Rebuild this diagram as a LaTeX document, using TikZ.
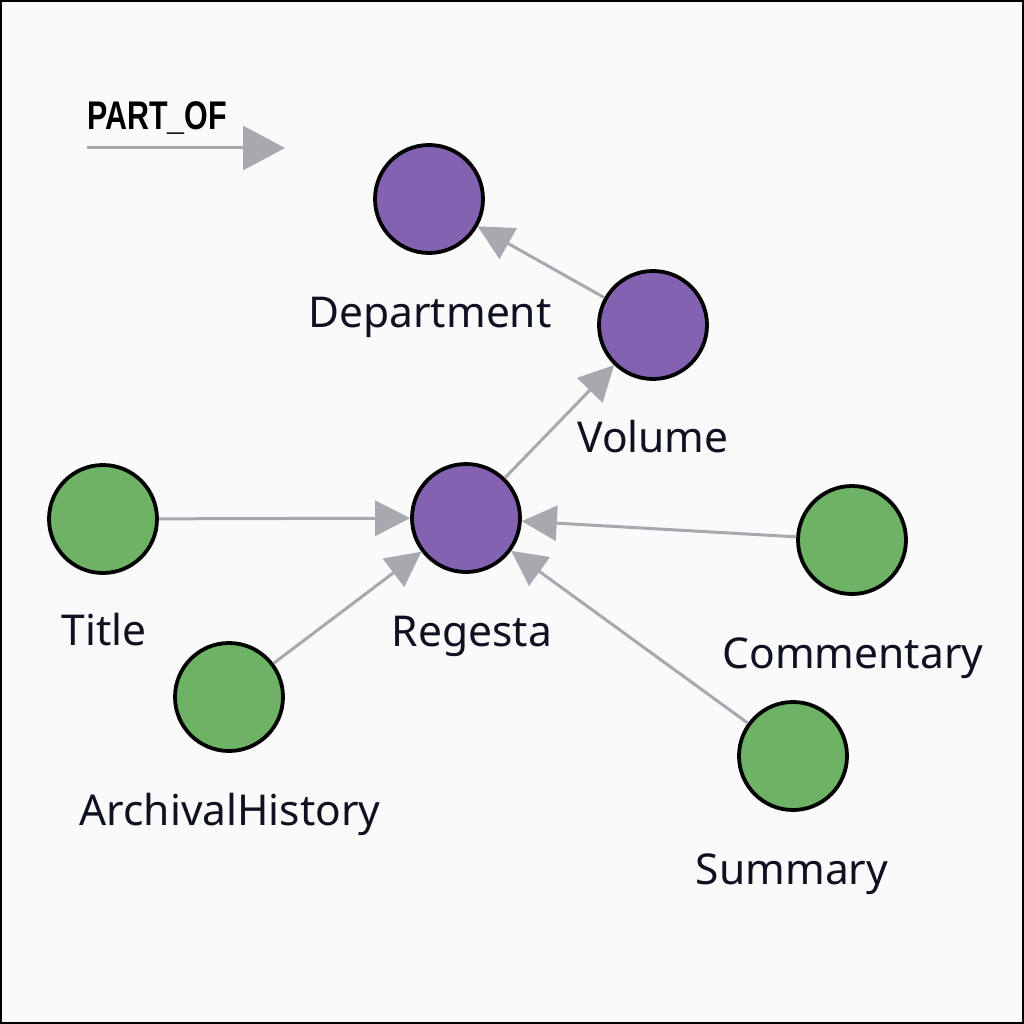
\documentclass[tikz,border=0pt]{standalone}
\usepackage{fontspec}
\setmainfont{Noto Sans}
\newfontfamily\legendfont{Liberation Sans}
\usetikzlibrary{arrows.meta}
\definecolor{paper}{RGB}{250,250,250}
\definecolor{regnode}{RGB}{132,98,178}
\definecolor{partnode}{RGB}{110,178,101}
\definecolor{edgegray}{RGB}{168,169,174}
\definecolor{ink}{RGB}{15,16,32}

\begin{document}
\begin{tikzpicture}[x=1pt,y=-1pt,
  entity/.style={circle,draw=black,line width=3.8pt,minimum size=108pt,inner sep=0pt},
  purp/.style={entity,fill=regnode},
  grn/.style={entity,fill=partnode},
  lbl/.style={anchor=base,text=ink,inner sep=0pt,font=\fontsize{42.5}{50}\selectfont},
  partof/.style={edgegray,line width=3pt,-{Triangle[length=35pt,width=35pt]}}]
  \fill[paper] (0,0) rectangle (1024,1024);
  \draw[line width=2pt] (1,1) rectangle (1023,1023);
  \useasboundingbox (0,0) rectangle (1024,1024);
  % legend
  \node[anchor=base west,inner sep=0pt,font=\legendfont\bfseries\fontsize{40}{44}\selectfont] (legtxt) at (87,130) {\scalebox{0.76}[1]{PART\_OF}};
  \coordinate (legA) at (87,148);
  \coordinate (legB) at (285,148);
  \draw[partof,-{Triangle[length=42pt,width=44pt]}] (legA) -- (legB);
  % nodes
  \node[purp] (dept) at (429,199) {};
  \node[purp] (vol) at (653,325) {};
  \node[purp] (reg) at (466,518) {};
  \node[grn] (title) at (103,519) {};
  \node[grn] (arch) at (229,697) {};
  \node[grn] (comm) at (852,540) {};
  \node[grn] (summ) at (793,756) {};
  % labels
  \node[lbl] (dept-lbl) at (430,327) {Department};
  \node[lbl] (vol-lbl) at (653,452) {Volume};
  \node[lbl] (reg-lbl) at (472,646) {Regesta};
  \node[lbl] (title-lbl) at (104,645) {Title};
  \node[lbl] (arch-lbl) at (230,825) {ArchivalHistory};
  \node[lbl] (comm-lbl) at (853,668) {Commentary};
  \node[lbl] (summ-lbl) at (792,884) {Summary};
  % edges
  \draw[partof] (vol) -- (dept);
  \draw[partof] (reg) -- (vol);
  \draw[partof] (title) -- (reg);
  \draw[partof] (arch) -- (reg);
  \draw[partof] (comm) -- (reg);
  \draw[partof] (summ) -- (reg);
\end{tikzpicture}
\end{document}
